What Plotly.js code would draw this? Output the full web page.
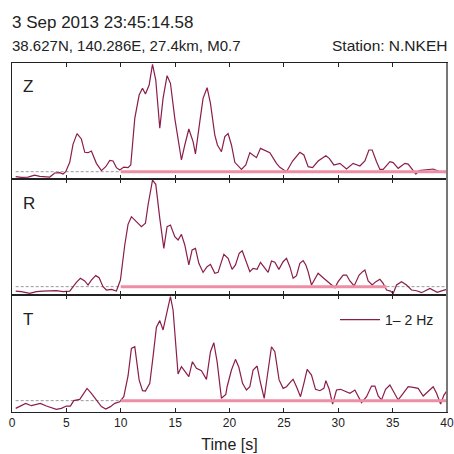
<!DOCTYPE html>
<html><head><meta charset="utf-8">
<script src="https://cdn.plot.ly/plotly-3.0.1.min.js"></script>
<style>html,body{margin:0;padding:0;background:#fff}#plot{width:454px;height:454px}</style>
</head><body><div id="plot"></div>
<script>
const titleText = "3 Sep 2013 23:45:14.58";
const subText = "38.627N, 140.286E, 27.4km, M0.7";
const stationText = "Station: N.NKEH";
const componentLabels = ["Z", "R", "T"];
const legendLabel = "1\u2013 2 Hz";
const xTicks = [0, 5, 10, 15, 20, 25, 30, 35, 40];

const zTime = [0.34,0.86,1.47,2.09,2.55,3.47,3.93,4.39,4.69,4.94,5.31,5.61,5.98,6.38,6.69,6.99,7.30,7.76,8.22,8.62,8.99,9.29,9.60,9.91,10.28,10.67,10.92,11.29,11.69,12.00,12.27,12.61,12.92,13.22,13.59,13.89,14.26,14.57,14.97,15.58,15.89,16.26,16.65,16.87,17.27,17.57,17.94,18.25,18.65,18.89,19.26,19.57,19.87,20.18,20.49,21.10,21.50,21.87,22.48,22.85,23.71,24.32,24.63,25.24,25.80,26.47,26.84,27.23,27.64,28.15,28.86,29.17,29.60,30.15,30.76,31.37,31.99,32.45,32.82,33.12,33.52,33.83,34.13,34.75,35.05,35.51,36.13,36.43,36.84,37.14,37.44,37.97,38.73,39.35,39.81,40.0];
const zAmp = [0.020,0.014,0.017,0.034,0.023,0.017,0.052,0.055,0.043,0.063,0.144,0.299,0.391,0.345,0.230,0.227,0.241,0.135,0.072,0.106,0.161,0.155,0.098,0.078,0.103,0.098,0.121,0.523,0.724,0.782,0.733,0.810,0.989,0.853,0.437,0.695,0.891,0.825,0.523,0.164,0.293,0.431,0.322,0.216,0.494,0.695,0.787,0.652,0.379,0.293,0.235,0.365,0.391,0.293,0.144,0.083,0.121,0.227,0.184,0.264,0.227,0.135,0.101,0.063,0.155,0.230,0.207,0.106,0.098,0.155,0.201,0.178,0.121,0.135,0.086,0.135,0.112,0.155,0.250,0.250,0.149,0.083,0.083,0.149,0.141,0.092,0.135,0.129,0.078,0.043,0.072,0.078,0.086,0.063,0.055,0.078];

const rTime = [0.34,0.86,1.63,2.24,2.85,3.47,4.08,4.69,5.31,5.92,6.29,6.69,6.99,7.30,7.70,8.01,8.37,8.68,9.14,9.60,9.97,10.37,10.67,10.98,11.44,11.90,12.27,12.51,12.92,13.22,13.59,13.96,14.26,14.57,14.97,15.27,15.58,15.89,16.26,16.56,16.87,17.18,17.57,17.94,18.25,18.65,18.95,19.26,19.48,19.87,20.24,20.55,20.89,21.17,21.50,21.87,22.17,22.54,22.85,23.25,23.55,23.86,24.17,24.54,24.93,25.24,25.55,25.85,26.16,26.47,26.77,27.02,27.23,27.54,27.85,28.15,28.61,29.07,29.38,29.69,29.99,30.45,30.76,31.07,31.46,31.92,32.24,32.45,32.75,33.12,33.46,33.83,34.13,34.44,34.81,35.05,35.36,35.82,36.28,36.74,37.20,37.66,38.43,39.10,39.65,40.0];
const rAmp = [0.034,0.029,0.014,0.029,0.034,0.034,0.037,0.029,0.034,0.109,0.144,0.121,0.086,0.129,0.167,0.149,0.072,0.043,0.049,0.034,0.129,0.431,0.609,0.675,0.632,0.589,0.618,0.776,0.991,0.954,0.661,0.402,0.589,0.603,0.503,0.474,0.523,0.431,0.259,0.388,0.402,0.273,0.195,0.244,0.264,0.187,0.195,0.287,0.351,0.316,0.221,0.259,0.359,0.382,0.287,0.201,0.230,0.221,0.282,0.230,0.195,0.293,0.282,0.221,0.287,0.316,0.244,0.144,0.167,0.273,0.296,0.259,0.201,0.086,0.144,0.187,0.149,0.115,0.086,0.063,0.115,0.172,0.172,0.121,0.078,0.172,0.201,0.216,0.121,0.086,0.115,0.135,0.101,0.043,0.034,0.014,0.086,0.115,0.086,0.043,0.037,0.020,0.057,0.023,0.040,0.049];

const tTime = [0.34,0.71,1.26,1.78,2.24,2.61,3.16,3.62,4.08,4.54,5.00,5.37,5.68,6.23,6.60,6.90,7.30,7.76,8.22,8.62,9.05,9.45,9.91,10.28,10.67,10.98,11.29,11.69,12.00,12.27,12.67,12.97,13.28,13.59,13.89,14.26,14.57,14.81,15.06,15.27,15.58,15.89,16.26,16.59,16.96,17.42,17.88,18.25,18.56,18.86,19.26,19.66,19.78,20.18,20.55,20.86,21.20,21.56,21.87,22.17,22.54,22.85,23.19,23.49,23.86,24.17,24.56,24.93,25.24,25.64,25.85,26.16,26.53,26.84,27.14,27.54,27.91,28.31,28.68,28.86,29.17,29.48,29.84,30.21,30.61,31.07,31.53,31.83,32.14,32.60,33.06,33.37,33.67,33.98,34.35,34.75,35.11,35.51,35.97,36.43,36.89,37.35,37.81,38.27,38.73,39.04,39.41,39.72,40.0];
const tAmp = [0.031,0.046,0.074,0.054,0.068,0.074,0.051,0.040,0.023,0.031,0.051,0.051,0.097,0.108,0.165,0.202,0.160,0.108,0.046,0.026,0.046,0.074,0.088,0.131,0.308,0.544,0.558,0.274,0.182,0.179,0.245,0.473,0.724,0.781,0.701,0.857,0.986,0.872,0.573,0.325,0.387,0.345,0.302,0.430,0.373,0.353,0.279,0.515,0.592,0.430,0.117,0.151,0.216,0.359,0.450,0.382,0.245,0.188,0.216,0.359,0.393,0.250,0.117,0.316,0.558,0.515,0.274,0.202,0.216,0.259,0.279,0.216,0.131,0.245,0.365,0.316,0.194,0.182,0.202,0.268,0.194,0.068,0.188,0.194,0.179,0.160,0.188,0.137,0.080,0.131,0.222,0.222,0.137,0.103,0.194,0.231,0.174,0.103,0.160,0.216,0.211,0.202,0.137,0.174,0.216,0.160,0.068,0.145,0.182];

const noiseLevel = [0.063, 0.072, 0.097];
const quietStart = [0.34, 0.34, 0.34];
const pinkStart = [10, 10, 10];
const pinkEnd = [40, 34.44, 40];
const tEnd = 40;

const traceColor = "#8a1d4a";
const pinkColor = "#ee8ea4";
const times = [zTime, rTime, tTime];
const amps = [zAmp, rAmp, tAmp];
const yaxNames = ["y", "y2", "y3"];
const xaxNames = ["x3", "x2", "x"];

const data = [];
for (let i = 0; i < 3; i++) {
  const xa = xaxNames[i], ya = yaxNames[i];
  data.push({x: [quietStart[i], pinkStart[i]], y: [noiseLevel[i], noiseLevel[i]], xaxis: xa, yaxis: ya,
    mode: "lines", line: {color: "#999", width: 1, dash: "3px,2px"}, showlegend: false, hoverinfo: "skip"});
  if (pinkEnd[i] < tEnd) {
    data.push({x: [pinkEnd[i], tEnd], y: [noiseLevel[i], noiseLevel[i]], xaxis: xa, yaxis: ya,
      mode: "lines", line: {color: "#999", width: 1, dash: "3px,2px"}, showlegend: false, hoverinfo: "skip"});
  }
  data.push({x: times[i], y: amps[i], xaxis: xa, yaxis: ya, mode: "lines", name: legendLabel,
    line: {color: traceColor, width: 1.2}, showlegend: i === 2});
  data.push({x: [pinkStart[i], pinkEnd[i]], y: [noiseLevel[i], noiseLevel[i]], xaxis: xa, yaxis: ya,
    mode: "lines", line: {color: pinkColor, width: 3}, showlegend: false, hoverinfo: "skip"});
}

const plotTop = 63, plotBot = 412, H = plotBot - plotTop;
const b1 = (plotBot - 179) / H, b2 = (plotBot - 295) / H;
const font = "Liberation Sans, Arial, Helvetica, sans-serif";
const common = {range: [0, 40], tickvals: xTicks, ticks: "inside", ticklen: 4, tickcolor: "#222",
  showline: true, linecolor: "#222", linewidth: 1, mirror: "ticks", showgrid: false, zeroline: false};
const ycommon = {range: [0, 1], showticklabels: false, ticks: "", showgrid: false, zeroline: false,
  showline: true, linecolor: "#222", linewidth: 1, mirror: true, fixedrange: true};

function py(pix) { return (plotBot - pix) / H; }
const annotations = [
  {text: titleText, x: 0, xref: "paper", xanchor: "left", y: py(22), yref: "paper", yanchor: "middle", showarrow: false, font: {size: 17, color: "#222", family: font}, xshift: -2},
  {text: subText, x: 0, xref: "paper", xanchor: "left", y: py(45), yref: "paper", yanchor: "middle", showarrow: false, font: {size: 15, color: "#222", family: font}, xshift: -2},
  {text: stationText, x: 1, xref: "paper", xanchor: "right", y: py(45), yref: "paper", yanchor: "middle", showarrow: false, font: {size: 15.5, color: "#222", family: font}, xshift: 2},
];
const labelY = [86, 203, 319];
for (let i = 0; i < 3; i++) {
  annotations.push({text: componentLabels[i], x: 0, xref: "paper", xanchor: "left", y: py(labelY[i]), yref: "paper",
    yanchor: "middle", showarrow: false, font: {size: 17, color: "#222", family: font}, xshift: 9});
}

const layout = {
  width: 454, height: 454,
  margin: {l: 12, r: 7, t: plotTop, b: 454 - plotBot},
  paper_bgcolor: "#fff", plot_bgcolor: "#fff",
  font: {family: font, color: "#222", size: 12},
  showlegend: true,
  legend: {x: (335 - 12) / 435, y: py(320), xanchor: "left", yanchor: "middle", bgcolor: "rgba(0,0,0,0)",
    font: {size: 14, family: font, color: "#222"}, itemwidth: 40},
  xaxis: Object.assign({}, common, {anchor: "y3", domain: [0, 1], tickfont: {size: 12, family: font},
    title: {text: "Time [s]", font: {size: 16, family: font}, standoff: 9}}),
  xaxis2: Object.assign({}, common, {anchor: "y2", matches: "x", showticklabels: false}),
  xaxis3: Object.assign({}, common, {anchor: "y", matches: "x", showticklabels: false}),
  yaxis: Object.assign({}, ycommon, {domain: [b1, 1], anchor: "x3"}),
  yaxis2: Object.assign({}, ycommon, {domain: [b2, b1], anchor: "x2"}),
  yaxis3: Object.assign({}, ycommon, {domain: [0, b2], anchor: "x"}),
  shapes: [{type: "line", xref: "paper", yref: "paper", x0: 1, x1: 1, y0: 0, y1: 1, line: {color: "#777", width: 2}}],
  annotations: annotations
};
Plotly.newPlot("plot", data, layout, {staticPlot: true, displayModeBar: false});
</script>
</body></html>
